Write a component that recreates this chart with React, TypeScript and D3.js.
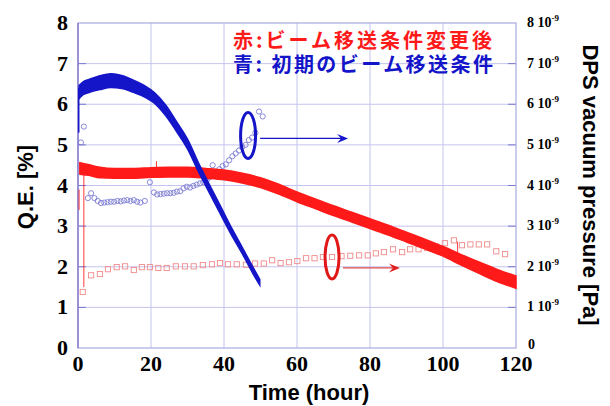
import React from 'react';
import * as d3 from 'd3';

// Q.E. bands (center value and half spread of the noisy trace, in %)
const blueQeTime = [0.3, 1.5, 3, 6, 9, 12, 15, 18, 21, 24, 27, 30, 33, 36, 39, 42, 45, 48, 49.8];
const blueQe = [6.3, 6.4, 6.45, 6.53, 6.58, 6.55, 6.45, 6.33, 6.15, 5.85, 5.45, 5.02, 4.45, 3.92, 3.4, 2.88, 2.4, 1.9, 1.62];
const blueSpread = [0.16, 0.16, 0.16, 0.17, 0.17, 0.16, 0.15, 0.14, 0.13, 0.13, 0.12, 0.12, 0.11, 0.1, 0.1, 0.09, 0.08, 0.08, 0.07];

const redQeTime = [0.5, 3, 6, 10, 15, 20, 25, 30, 35, 40, 45, 50, 55, 60, 65, 70, 75, 80, 85, 90, 95, 100, 105, 110, 115, 120];
const redQe = [4.42, 4.38, 4.32, 4.3, 4.3, 4.32, 4.33, 4.33, 4.3, 4.26, 4.18, 4.07, 3.91, 3.72, 3.55, 3.38, 3.22, 3.06, 2.9, 2.73, 2.56, 2.38, 2.17, 1.97, 1.78, 1.62];
const redSpread = [0.14, 0.13, 0.13, 0.12, 0.12, 0.12, 0.12, 0.12, 0.12, 0.12, 0.12, 0.12, 0.12, 0.12, 0.12, 0.12, 0.12, 0.12, 0.12, 0.12, 0.12, 0.12, 0.13, 0.14, 0.15, 0.15];

// thin spikes in the traces: [time, from, to]
const blueSpikes = [[0.2, 5.3, 6.4]];
const redSpikes = [[0.3, 3.4, 3.9], [1.6, 4.4, 1.5], [21.5, 4.35, 4.6], [104, 2.25, 2.62]];

// DPS vacuum pressure (x1e-9 Pa)
const bluePTime = [0.8, 1.6, 2.7, 3.6, 4.5, 5.4, 6.3, 7.2, 8.1, 9.0, 9.9, 10.8, 11.7, 12.6, 13.5, 14.4, 15.3, 16.2, 17.1, 18.3, 19.7, 20.8, 21.7, 22.6, 23.5, 24.4, 25.3, 26.2, 27.1, 28.0, 28.9, 29.8, 30.7, 31.6, 32.5, 33.4, 34.3, 35.2, 36.0, 36.9, 37.8, 38.7, 39.6, 40.5, 41.4, 42.3, 43.2, 44.1, 45.0, 45.9, 46.8, 47.7, 48.6, 49.6, 50.6];
const blueP = [5.06, 5.45, 3.69, 3.81, 3.69, 3.62, 3.57, 3.58, 3.59, 3.6, 3.6, 3.62, 3.61, 3.63, 3.64, 3.62, 3.64, 3.6, 3.58, 3.62, 4.08, 3.83, 3.78, 3.79, 3.8, 3.81, 3.81, 3.82, 3.85, 3.86, 3.93, 3.97, 3.95, 3.99, 4.02, 4.05, 4.08, 4.12, 4.2, 4.5, 4.33, 4.4, 4.48, 4.52, 4.62, 4.72, 4.79, 4.86, 4.95, 5.0, 5.12, 5.18, 5.3, 5.82, 5.7];

const redPTime = [1.3, 3.6, 6.0, 8.2, 10.6, 12.9, 15.3, 17.5, 19.7, 22.0, 24.3, 26.8, 29.3, 31.7, 34.2, 36.7, 38.9, 41.1, 43.5, 46.0, 48.5, 50.9, 53.2, 55.5, 57.8, 60.1, 62.5, 64.8, 67.1, 69.6, 72.2, 74.6, 77.0, 79.4, 81.6, 83.8, 86.3, 88.8, 91.0, 93.3, 95.6, 98.0, 100.5, 103.0, 105.2, 107.5, 109.8, 112.1, 114.6, 117.0];
const redP = [1.38, 1.79, 1.82, 1.94, 1.99, 2.01, 1.92, 1.99, 1.99, 1.97, 1.97, 2.01, 2.01, 2.01, 2.04, 2.06, 2.09, 2.06, 2.06, 2.05, 2.08, 2.08, 2.16, 2.09, 2.11, 2.14, 2.21, 2.21, 2.24, 2.24, 2.26, 2.27, 2.28, 2.28, 2.33, 2.36, 2.43, 2.36, 2.43, 2.43, 2.46, 2.5, 2.58, 2.65, 2.53, 2.55, 2.55, 2.55, 2.38, 2.31];

const xTicks = [0, 20, 40, 60, 80, 100, 120];
const yTicks = [0, 1, 2, 3, 4, 5, 6, 7, 8];

const legendRed = '赤:ビーム移送条件変更後';
const legendBlue = '青: 初期のビーム移送条件';

const W = 610;
const H = 406;
const left = 78;
const right = 516;
const top = 23;
const bottom = 348;

const BLUE = '#1414c8';
const RED = '#ff1a1a';
const serif = '"Liberation Serif", "DejaVu Serif", serif';
const sans = '"Liberation Sans", Arial, sans-serif';

export default function App() {
  const x = d3.scaleLinear().domain([0, 120]).range([left, right]);
  const y = d3.scaleLinear().domain([0, 8]).range([bottom, top]);

  const makeBand = (t: number[], c: number[], s: number[]) =>
    d3
      .area<number>()
      .x((i) => x(t[i]))
      .y0((i) => y(c[i] - s[i]))
      .y1((i) => y(c[i] + s[i]))
      .curve(d3.curveMonotoneX)(d3.range(t.length)) || '';

  const arrowHead = (x1: number, yy: number, color: string) => (
    <path d={`M${x1},${yy} L${x1 - 11},${yy - 4.5} L${x1 - 7},${yy} L${x1 - 11},${yy + 4.5} Z`} fill={color} />
  );

  return (
    <svg width={W} height={H} style={{ position: 'absolute', left: 0, top: 0, background: '#fff' }}>
      {/* grid */}
      {xTicks.slice(1, -1).map((t) => (
        <line key={'gx' + t} x1={x(t)} x2={x(t)} y1={top} y2={bottom} stroke="#c4c4ee" strokeWidth={1} />
      ))}
      {yTicks.slice(1, -1).map((v) => (
        <line key={'gy' + v} x1={left} x2={right} y1={y(v)} y2={y(v)} stroke="#c4c4ee" strokeWidth={1} />
      ))}
      {yTicks.slice(1, -1).map((v) => (
        <g key={'tk' + v} stroke="#7878cc" strokeWidth={1}>
          <line x1={left} x2={left + 8} y1={y(v)} y2={y(v)} />
          <line x1={right - 8} x2={right} y1={y(v)} y2={y(v)} />
        </g>
      ))}
      <rect x={left} y={top} width={right - left} height={bottom - top} fill="none" stroke="#a8a8e0" strokeWidth={1.2} />
      <line x1={left} x2={left} y1={top} y2={bottom} stroke="#8a7ed0" strokeWidth={1.5} />

      {/* pressure markers */}
      {redPTime.map((t, i) => (
        <rect key={'rp' + i} x={x(t) - 2.6} y={y(redP[i]) - 2.6} width={5.2} height={5.2} fill="none" stroke="#f08a8a" strokeWidth={0.9} />
      ))}
      {bluePTime.map((t, i) => (
        <circle key={'bp' + i} cx={x(t)} cy={y(blueP[i])} r={2.6} fill="none" stroke="#7c7cd4" strokeWidth={0.9} />
      ))}

      {/* QE traces */}
      <path d={makeBand(redQeTime, redQe, redSpread)} fill={RED} stroke={RED} strokeWidth={1.5} />
      {redSpikes.map(([t, a, b], i) => (
        <line key={'rs' + i} x1={x(t)} x2={x(t)} y1={y(a)} y2={y(b)} stroke={RED} strokeWidth={1} opacity={0.85} />
      ))}
      <path d={makeBand(blueQeTime, blueQe, blueSpread)} fill={BLUE} stroke={BLUE} strokeWidth={1.5} />
      {blueSpikes.map(([t, a, b], i) => (
        <line key={'bs' + i} x1={x(t)} x2={x(t)} y1={y(a)} y2={y(b)} stroke={BLUE} strokeWidth={1.5} />
      ))}

      {/* annotations */}
      <ellipse cx={x(46.6)} cy={y(5.23)} rx={7.5} ry={23} fill="none" stroke={BLUE} strokeWidth={3} />
      <line x1={x(49.9)} x2={x(73)} y1={y(5.16)} y2={y(5.16)} stroke={BLUE} strokeWidth={1.3} />
      {arrowHead(x(74), y(5.16), BLUE)}
      <ellipse cx={x(69.6)} cy={y(2.24)} rx={7} ry={22} fill="none" stroke="#e01818" strokeWidth={3} />
      <line x1={x(72.6)} x2={x(87.5)} y1={y(1.97)} y2={y(1.97)} stroke="#e04848" strokeWidth={1.3} />
      {arrowHead(x(88.2), y(1.97), '#e02020')}

      {/* legend text */}
      <g fontFamily='"Noto Sans CJK JP", sans-serif' fontWeight={700} fontSize={20}>
        <text x={233} y={48} fill={RED} textLength={259} lengthAdjust="spacing">{legendRed}</text>
        <text x={233} y={72} fill={BLUE} textLength={260} lengthAdjust="spacing">{legendBlue}</text>
      </g>

      {/* left axis labels */}
      {yTicks.map((v) => (
        <text key={'yl' + v} x={68} y={y(v) + 7} textAnchor="end" fontFamily={serif} fontWeight={700} fontSize={22}>
          {v}
        </text>
      ))}
      {xTicks.map((t) => (
        <text key={'xl' + t} x={x(t)} y={371} textAnchor="middle" fontFamily={serif} fontWeight={700} fontSize={22}>
          {t}
        </text>
      ))}
      {/* right axis labels */}
      {yTicks.map((v) => (
        <text key={'yr' + v} x={v === 0 ? 528 : 527} y={y(v) + (v === 0 ? 1 : 4)} fontFamily={serif} fontWeight={700} fontSize={14}>
          {v === 0 ? '0' : `${v} 10`}
          {v !== 0 && (
            <tspan dy={-6} fontSize={9}>
              -9
            </tspan>
          )}
        </text>
      ))}

      {/* axis titles */}
      <text transform="translate(33,187) rotate(-90)" textAnchor="middle" fontFamily={sans} fontWeight={700} fontSize={22}>
        Q.E. [%]
      </text>
      <text transform="translate(583,185) rotate(90)" textAnchor="middle" fontFamily={sans} fontWeight={700} fontSize={22}>
        DPS vacuum pressure [Pa]
      </text>
      <text x={309} y={400} textAnchor="middle" fontFamily={sans} fontWeight={700} fontSize={22}>
        Time (hour)
      </text>
    </svg>
  );
}
